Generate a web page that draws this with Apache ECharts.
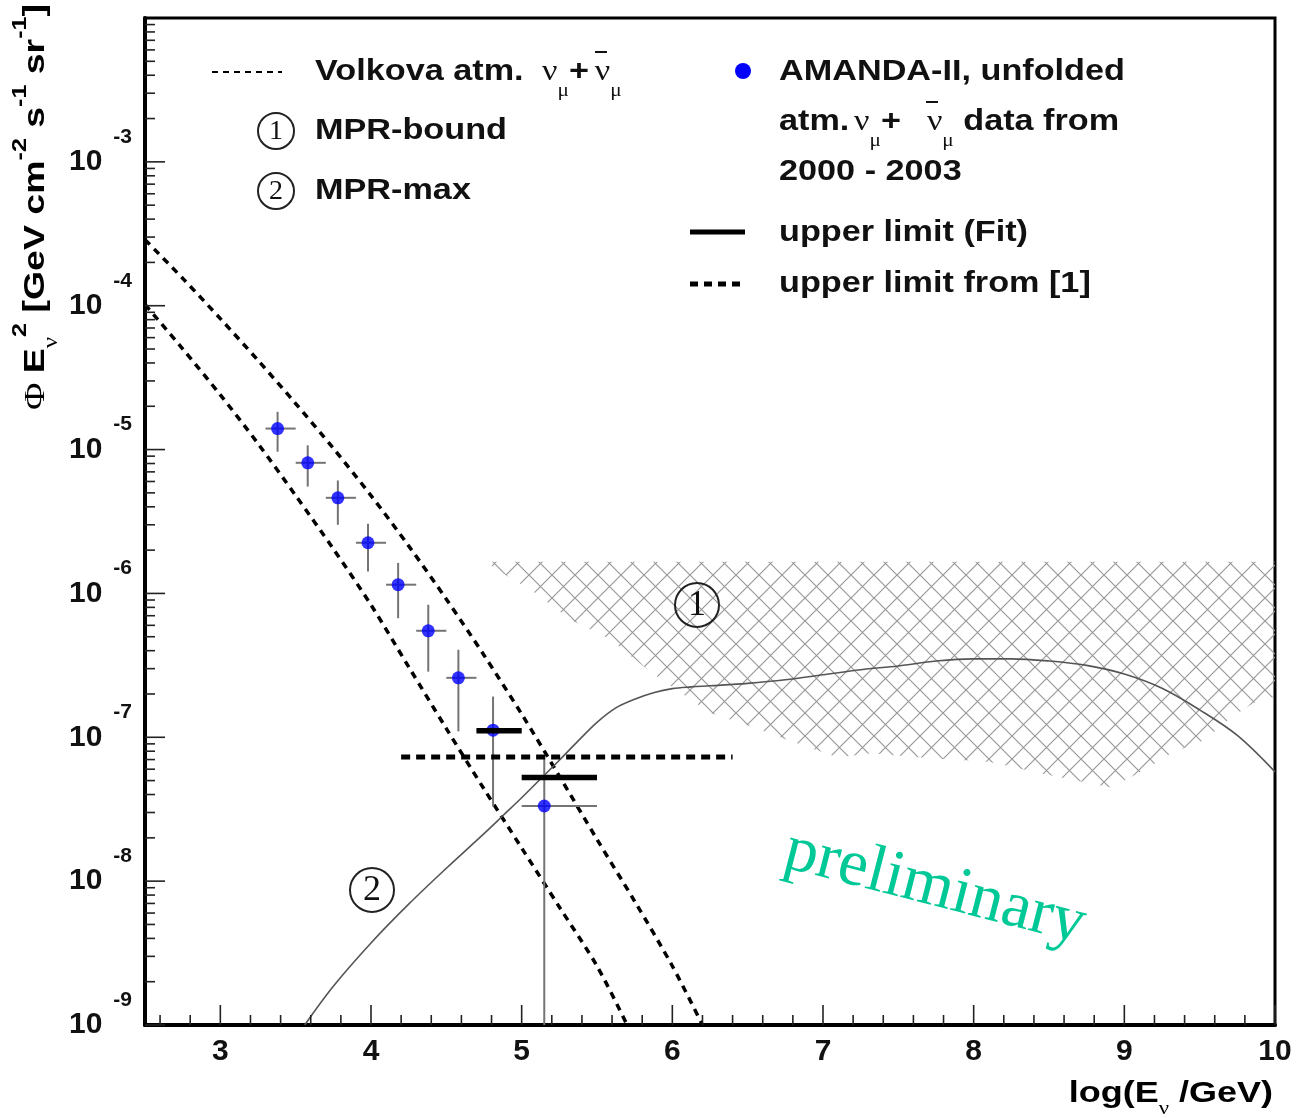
<!DOCTYPE html>
<html>
<head>
<meta charset="utf-8">
<title>AMANDA-II unfolded atmospheric neutrino spectrum</title>
<script src="https://cdn.jsdelivr.net/npm/echarts@6.0.0/dist/echarts.min.js"></script>
<style>
  html, body { margin: 0; padding: 0; background: #fff; }
  #main { width: 1296px; height: 1118px; }
</style>
</head>
<body>
<div id="main"></div>
<script>
// ---- data ----
// AMANDA-II unfolded points (log10 E bins and flux)
const binLo  = [3.3, 3.5, 3.7, 3.9, 4.1, 4.3, 4.5, 4.7, 5.0];
const binHi  = [3.5, 3.7, 3.9, 4.1, 4.3, 4.5, 4.7, 5.0, 5.5];
const pointX = [3.38, 3.58, 3.78, 3.98, 4.18, 4.38, 4.58, 4.81, 5.15];
const flux   = [1.40e-5, 8.09e-6, 4.62e-6, 2.25e-6, 1.15e-6, 5.50e-7, 2.59e-7, 1.12e-7, 3.33e-8];
const fluxHi = [1.83e-5, 1.07e-5, 6.10e-6, 3.05e-6, 1.63e-6, 8.34e-7, 4.06e-7, 1.92e-7, 7.3e-8];
const fluxLo = [9.66e-6, 5.53e-6, 3.00e-6, 1.42e-6, 6.73e-7, 2.86e-7, 1.10e-7, 3.30e-8, 1.0e-9];

// upper limits: [from, to, flux]
const fitLimits = [[4.7, 5.0, 1.11e-7], [5.0, 5.5, 5.25e-8]];
const refLimit  = [4.2, 6.4, 7.28e-8];

// Volkova atm. nu_mu band (upper and lower curve)
const volkovaHighX = [2.5, 2.75, 3.0, 3.25, 3.5, 3.75, 4.0, 4.25, 4.5, 4.75, 5.0, 5.25, 5.5, 5.75, 6.0, 6.2];
const volkovaHigh  = [2.88e-4, 1.55e-4, 8.13e-5, 4.17e-5, 2.09e-5, 1.02e-5, 4.79e-6, 2.14e-6, 9.12e-7, 3.72e-7, 1.45e-7, 5.37e-8, 1.95e-8, 7.24e-9, 2.57e-9, 1.0e-9];
const volkovaLowX  = [2.5, 2.75, 3.0, 3.25, 3.5, 3.75, 4.0, 4.25, 4.5, 4.75, 5.0, 5.25, 5.5, 5.7];
const volkovaLow   = [1.02e-4, 5.01e-5, 2.40e-5, 1.10e-5, 4.79e-6, 2.04e-6, 8.32e-7, 3.09e-7, 1.15e-7, 4.37e-8, 1.70e-8, 6.61e-9, 2.57e-9, 1.0e-9];

// (2) MPR-max
const mprMaxX = [3.56, 3.75, 4.0, 4.25, 4.5, 4.75, 4.875, 5.0, 5.125, 5.25, 5.375, 5.5, 5.625, 5.75, 5.875, 6.0, 6.125, 6.25, 6.5, 6.75, 7.0, 7.25, 7.5, 7.75, 8.0, 8.25, 8.5, 8.75, 9.0, 9.25, 9.5, 9.75, 10.0];
const mprMax  = [1.0e-9, 1.86e-9, 3.72e-9, 6.92e-9, 1.23e-8, 2.14e-8, 2.85e-8, 3.80e-8, 5.13e-8, 6.92e-8, 9.44e-8, 1.27e-7, 1.60e-7, 1.84e-7, 2.04e-7, 2.18e-7, 2.24e-7, 2.28e-7, 2.37e-7, 2.51e-7, 2.72e-7, 2.95e-7, 3.13e-7, 3.39e-7, 3.51e-7, 3.51e-7, 3.39e-7, 3.16e-7, 2.75e-7, 2.19e-7, 1.55e-7, 1.03e-7, 5.75e-8];

// (1) MPR-bound hatched band: flat top, lower edge below
const mprBoundTop  = 1.66e-6;
const mprBoundX    = [4.76, 4.86, 5.06, 5.32, 5.59, 5.86, 6.25, 6.54, 6.77, 7.10, 7.32, 7.65, 8.10, 8.49, 8.91, 9.13, 9.31, 9.53, 9.71, 9.86, 10.0];
const mprBoundLow  = [1.66e-6, 1.41e-6, 1.06e-6, 6.61e-7, 4.79e-7, 2.82e-7, 1.48e-7, 1.17e-7, 9.55e-8, 7.24e-8, 7.76e-8, 7.24e-8, 6.76e-8, 5.50e-8, 4.47e-8, 5.89e-8, 7.76e-8, 9.55e-8, 1.38e-7, 1.74e-7, 1.91e-7];

// axis ticks
const xTickLabels = [3, 4, 5, 6, 7, 8, 9, 10];
const yDecades = [-9, -8, -7, -6, -5, -4, -3];

const SANS = '"Liberation Sans", Arial, Helvetica, sans-serif';
const SERIF = '"Liberation Serif", "Times New Roman", serif';

// tick marks drawn inside the frame (ROOT style): [x, y, kind]
const tickData = [];
xTickLabels.forEach(v => tickData.push([v, 1e-9, 0]));
for (let i = 13; i < 50; i++) {
  if (i % 5 !== 0) tickData.push([i / 5, 1e-9, 1]);
}
yDecades.forEach(d => {
  tickData.push([2.5, Math.pow(10, d), 2]);
  for (let k = 2; k <= 9; k++) tickData.push([2.5, k * Math.pow(10, d), 3]);
});

// crosshatch pattern for the MPR-bound band
const hatch = document.createElement('canvas');
hatch.width = 23; hatch.height = 23;
const hg = hatch.getContext('2d');
hg.strokeStyle = '#999';
hg.lineWidth = 1.2;
hg.beginPath();
hg.moveTo(0, 0); hg.lineTo(23, 23);
hg.moveTo(23, 0); hg.lineTo(0, 23);
hg.stroke();

const chart = echarts.init(document.getElementById('main'));

const gBase = { fontFamily: SERIF, fontSize: 29, lineHeight: 60, verticalAlign: 'middle', color: '#111' };
const legendRich = {
  a: { fontFamily: SANS, fontWeight: 'bold', fontSize: 29, lineHeight: 60, verticalAlign: 'middle', color: '#111' },
  g: Object.assign({}, gBase, { padding: [0, 0, 0, 4] }),
  g1: Object.assign({}, gBase, { padding: [0, 0, 0, 7.6] }),
  g2: Object.assign({}, gBase, { padding: [0, 0, 0, 5] }),
  g3: Object.assign({}, gBase, { padding: [0, 0, 0, 22] }),
  s: { fontFamily: SERIF, fontSize: 18, height: 22, verticalAlign: 'bottom', color: '#111' }
};

function legendText(x, y, text) {
  return {
    type: 'text', x: x, y: y, scaleX: 1.18, z: 100,
    style: { text: text, rich: legendRich, align: 'left', verticalAlign: 'middle',
             textAlign: 'left', textVerticalAlign: 'middle',
             fontFamily: SANS, fontWeight: 'bold', fontSize: 29, fill: '#111' }
  };
}

function circled(cx, cy, r, digit, size) {
  return [
    { type: 'circle', z: 100, shape: { cx: cx, cy: cy, r: r }, style: { fill: null, stroke: '#222', lineWidth: 2 } },
    { type: 'text', z: 100, x: cx, y: cy + 1,
      style: { text: digit, fontFamily: SERIF, fontSize: size, fill: '#111',
               align: 'center', verticalAlign: 'middle', textAlign: 'center', textVerticalAlign: 'middle' } }
  ];
}

const option = {
  animation: false,
  backgroundColor: '#fff',
  grid: {
    left: 145, right: 21, top: 18, bottom: 93,
    show: true, borderColor: '#000', borderWidth: 3,
    containLabel: false, outerBoundsMode: 'none'
  },
  xAxis: {
    type: 'value', min: 2.5, max: 10, interval: 0.5,
    axisLine: { show: true, lineStyle: { color: '#000', width: 4 } },
    axisTick: { show: false },
    splitLine: { show: false },
    axisLabel: {
      margin: 12, fontFamily: SANS, fontWeight: 'bold', fontSize: 30, color: '#111',
      formatter: v => (Number.isInteger(v) ? String(v) : '')
    }
  },
  yAxis: {
    type: 'log', logBase: 10, min: 1e-9, max: 1e-2,
    axisLine: { show: true, lineStyle: { color: '#000', width: 4 } },
    axisTick: { show: false },
    splitLine: { show: false },
    axisLabel: {
      margin: 13, showMinLabel: true,
      formatter: v => {
        const e = Math.round(Math.log10(v));
        return e > -3 ? '' : '{b|10}{e|' + e + '}';
      },
      rich: {
        b: { fontFamily: SANS, fontWeight: 'bold', fontSize: 30, lineHeight: 80, verticalAlign: 'middle', color: '#111' },
        e: { fontFamily: SANS, fontWeight: 'bold', fontSize: 21, height: 30, verticalAlign: 'top', padding: [0, 0, 0, 11], color: '#111' }
      }
    }
  },
  series: [
    {
      // MPR-bound hatched region
      type: 'custom', coordinateSystem: 'cartesian2d', z: 1,
      data: [[mprBoundX[0], mprBoundTop]],
      renderItem: (params, api) => {
        const pts = [api.coord([mprBoundX[0], mprBoundTop])];
        mprBoundX.forEach((x, i) => pts.push(api.coord([x, mprBoundLow[i]])));
        pts.push(api.coord([mprBoundX[mprBoundX.length - 1], mprBoundTop]));
        return { type: 'polygon', shape: { points: pts },
                 style: { fill: { image: hatch, repeat: 'repeat' }, stroke: null } };
      }
    },
    {
      type: 'line', z: 3, data: volkovaHighX.map((x, i) => [x, volkovaHigh[i]]),
      showSymbol: false, smooth: 0.3,
      lineStyle: { color: '#000', width: 3.5, type: [7, 6] }
    },
    {
      type: 'line', z: 3, data: volkovaLowX.map((x, i) => [x, volkovaLow[i]]),
      showSymbol: false, smooth: 0.3,
      lineStyle: { color: '#000', width: 3.5, type: [7, 6] }
    },
    {
      type: 'line', z: 3, data: mprMaxX.map((x, i) => [x, mprMax[i]]),
      showSymbol: false, smooth: 0.35,
      lineStyle: { color: '#555', width: 1.6 }
    },
    {
      // error bars
      type: 'custom', z: 4, encode: { x: 0, y: 1 },
      data: pointX.map((x, i) => [x, flux[i], binLo[i], binHi[i], fluxLo[i], fluxHi[i]]),
      renderItem: (params, api) => {
        const l = api.coord([api.value(2), api.value(1)]);
        const r = api.coord([api.value(3), api.value(1)]);
        const t = api.coord([api.value(0), api.value(5)]);
        const b = api.coord([api.value(0), api.value(4)]);
        const st = { stroke: '#747474', lineWidth: 2 };
        return { type: 'group', children: [
          { type: 'line', shape: { x1: l[0], y1: l[1], x2: r[0], y2: r[1] }, style: st },
          { type: 'line', shape: { x1: t[0], y1: t[1], x2: b[0], y2: b[1] }, style: st }
        ] };
      }
    },
    {
      type: 'scatter', z: 5, symbol: 'circle', symbolSize: 13,
      data: pointX.map((x, i) => [x, flux[i]]),
      itemStyle: { color: '#0000ff' }
    },
    {
      // upper limits from fit
      type: 'custom', z: 6, encode: { x: [0, 1], y: 2 },
      data: fitLimits,
      renderItem: (params, api) => {
        const a = api.coord([api.value(0), api.value(2)]);
        const b = api.coord([api.value(1), api.value(2)]);
        return { type: 'line', shape: { x1: a[0], y1: a[1], x2: b[0], y2: b[1] },
                 style: { stroke: '#000', lineWidth: 5.5 } };
      }
    },
    {
      // upper limit from [1]
      type: 'custom', z: 6, encode: { x: [0, 1], y: 2 },
      data: [refLimit],
      renderItem: (params, api) => {
        const a = api.coord([api.value(0), api.value(2)]);
        const b = api.coord([api.value(1), api.value(2)]);
        return { type: 'line', shape: { x1: a[0], y1: a[1], x2: b[0], y2: b[1] },
                 style: { stroke: '#000', lineWidth: 5, lineDash: [9, 6] } };
      }
    },
    {
      // inner tick marks
      type: 'custom', z: 7, clip: false, encode: { x: 0, y: 1 },
      data: tickData,
      renderItem: (params, api) => {
        const kind = api.value(2);
        const p = api.coord([api.value(0), api.value(1)]);
        const len = (kind === 0 || kind === 2) ? 20 : 10;
        const shape = kind < 2
          ? { x1: p[0], y1: p[1], x2: p[0], y2: p[1] - len }
          : { x1: p[0], y1: p[1], x2: p[0] + len, y2: p[1] };
        return { type: 'line', shape: shape, style: { stroke: '#222', lineWidth: 1.6 } };
      }
    }
  ],
  graphic: [
    // y-axis title
    {
      type: 'text', x: 36, y: 410, rotation: Math.PI / 2, scaleX: 1.25, z: 100,
      style: {
        text: '{p|Φ }{a|E}{s|ν}{u|2}{a| [GeV cm}{u|-2}{a| s}{u|-1}{a| sr}{u|-1}{a|]}',
        align: 'left', verticalAlign: 'middle', textAlign: 'left', textVerticalAlign: 'middle',
        rich: {
          a: { fontFamily: SANS, fontWeight: 'bold', fontSize: 30, lineHeight: 80, verticalAlign: 'middle', color: '#111' },
          p: { fontFamily: SERIF, fontSize: 30, lineHeight: 80, verticalAlign: 'middle', color: '#111' },
          s: { fontFamily: SERIF, fontSize: 20, height: 48, verticalAlign: 'bottom', color: '#111' },
          u: { fontFamily: SANS, fontWeight: 'bold', fontSize: 20, height: 48, verticalAlign: 'top', color: '#111' }
        }
      }
    },
    // x-axis title
    {
      type: 'text', x: 1273, y: 1094, scaleX: 1.2, z: 100,
      style: {
        text: '{a|log(E}{s|ν}{a| /GeV)}',
        align: 'right', verticalAlign: 'middle', textAlign: 'right', textVerticalAlign: 'middle',
        rich: {
          a: { fontFamily: SANS, fontWeight: 'bold', fontSize: 30, lineHeight: 70, verticalAlign: 'middle', color: '#111' },
          s: { fontFamily: SERIF, fontSize: 19, height: 40, verticalAlign: 'bottom', color: '#111' }
        }
      }
    },
    // legend, left block
    { type: 'line', z: 100, shape: { x1: 212, y1: 72, x2: 282, y2: 72 }, style: { stroke: '#000', lineWidth: 2, lineDash: [6, 5] } },
    legendText(315, 72, '{a|Volkova atm. }{g1|ν}{s|μ}{a|+}{g2|ν}{s|μ}'),
    { type: 'line', z: 100, shape: { x1: 595, y1: 52, x2: 607, y2: 52 }, style: { stroke: '#111', lineWidth: 2 } },
    ...circled(276, 131, 18, '1', 28),
    legendText(315, 131, '{a|MPR-bound}'),
    ...circled(276, 191, 18, '2', 28),
    legendText(315, 191, '{a|MPR-max}'),
    // legend, right block
    { type: 'circle', z: 100, shape: { cx: 743, cy: 71, r: 8 }, style: { fill: '#0000ff' } },
    legendText(779, 72, '{a|AMANDA-II, unfolded}'),
    legendText(779, 122, '{a|atm.}{g|ν}{s|μ}{a|+}{g3|ν}{s|μ}{a| data from}'),
    { type: 'line', z: 100, shape: { x1: 926, y1: 102, x2: 938, y2: 102 }, style: { stroke: '#111', lineWidth: 2 } },
    legendText(779, 172, '{a|2000 - 2003}'),
    { type: 'line', z: 100, shape: { x1: 690, y1: 232, x2: 745, y2: 232 }, style: { stroke: '#000', lineWidth: 5 } },
    legendText(779, 233, '{a|upper limit (Fit)}'),
    { type: 'line', z: 100, shape: { x1: 690, y1: 284, x2: 745, y2: 284 }, style: { stroke: '#000', lineWidth: 5, lineDash: [8, 6] } },
    legendText(779, 284, '{a|upper limit from [1]}'),
    // band labels inside the plot
    ...circled(697, 605, 22, '1', 36),
    ...circled(372, 890, 22, '2', 36),
    {
      type: 'text', z: 100, x: 935, y: 888, rotation: -0.252,
      style: { text: 'preliminary', fontFamily: SERIF, fontSize: 66, fill: '#00c896',
               align: 'center', verticalAlign: 'middle', textAlign: 'center', textVerticalAlign: 'middle' }
    }
  ]
};

chart.setOption(option);
</script>
</body>
</html>
